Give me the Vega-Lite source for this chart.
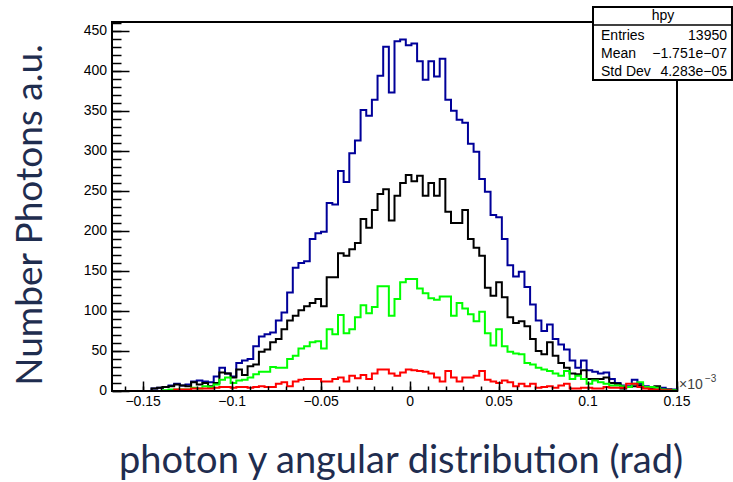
{
  "$schema": "https://vega.github.io/schema/vega-lite/v6.json",
  "width": 565,
  "height": 369,
  "autosize": "none",
  "padding": {"left": 112, "top": 22, "right": 56, "bottom": 91},
  "background": "white",
  "config": {"view": {"stroke": "black", "strokeWidth": 2}},
  "datasets": {
    "h": [
      {"x": -0.1675, "blue": 0, "black": 0, "green": 0, "red": 0},
      {"x": -0.164325, "blue": 0, "black": 0, "green": 0, "red": 0},
      {"x": -0.16115, "blue": 0, "black": 0, "green": 0, "red": 0},
      {"x": -0.157975, "blue": 0, "black": 0, "green": 0, "red": 0},
      {"x": -0.1548, "blue": 0, "black": 0, "green": 0, "red": 0},
      {"x": -0.151625, "blue": 0, "black": 0, "green": 0, "red": 0},
      {"x": -0.14845, "blue": 0, "black": 0, "green": 0, "red": 0},
      {"x": -0.145275, "blue": 3, "black": 3, "green": 0, "red": 0},
      {"x": -0.1421, "blue": 4, "black": 4, "green": 0, "red": 0},
      {"x": -0.138925, "blue": 5, "black": 5, "green": 1, "red": 0},
      {"x": -0.13575, "blue": 7, "black": 6, "green": 2, "red": 0},
      {"x": -0.132575, "blue": 9, "black": 8, "green": 2, "red": 2},
      {"x": -0.1294, "blue": 7, "black": 7, "green": 2, "red": 2},
      {"x": -0.126225, "blue": 8, "black": 6, "green": 2, "red": 2},
      {"x": -0.12305, "blue": 12, "black": 11, "green": 4, "red": 3},
      {"x": -0.119875, "blue": 13, "black": 8, "green": 3, "red": 3},
      {"x": -0.1167, "blue": 12, "black": 10, "green": 6, "red": 3},
      {"x": -0.113525, "blue": 11, "black": 6, "green": 5, "red": 3},
      {"x": -0.11035, "blue": 18, "black": 10, "green": 8, "red": 4},
      {"x": -0.107175, "blue": 29, "black": 23, "green": 14, "red": 5},
      {"x": -0.104, "blue": 22, "black": 22, "green": 17, "red": 5},
      {"x": -0.100825, "blue": 18, "black": 17, "green": 10, "red": 4},
      {"x": -0.09765, "blue": 35, "black": 27, "green": 13, "red": 5},
      {"x": -0.094475, "blue": 38, "black": 20, "green": 14, "red": 5},
      {"x": -0.0913, "blue": 40, "black": 31, "green": 17, "red": 4},
      {"x": -0.088125, "blue": 56, "black": 33, "green": 21, "red": 5},
      {"x": -0.08495, "blue": 68, "black": 49, "green": 24, "red": 6},
      {"x": -0.081775, "blue": 71, "black": 52, "green": 24, "red": 5},
      {"x": -0.0786, "blue": 73, "black": 61, "green": 30, "red": 5},
      {"x": -0.075425, "blue": 88, "black": 65, "green": 29, "red": 9},
      {"x": -0.07225, "blue": 98, "black": 77, "green": 29, "red": 11},
      {"x": -0.069075, "blue": 123, "black": 88, "green": 40, "red": 6},
      {"x": -0.0659, "blue": 154, "black": 94, "green": 44, "red": 12},
      {"x": -0.062725, "blue": 160, "black": 101, "green": 53, "red": 14},
      {"x": -0.05955, "blue": 162, "black": 106, "green": 56, "red": 15},
      {"x": -0.056375, "blue": 190, "black": 110, "green": 61, "red": 15},
      {"x": -0.0532, "blue": 197, "black": 115, "green": 62, "red": 15},
      {"x": -0.050025, "blue": 199, "black": 106, "green": 53, "red": 12},
      {"x": -0.04685, "blue": 235, "black": 142, "green": 77, "red": 12},
      {"x": -0.043675, "blue": 233, "black": 142, "green": 71, "red": 15},
      {"x": -0.0405, "blue": 275, "black": 172, "green": 95, "red": 17},
      {"x": -0.037325, "blue": 261, "black": 169, "green": 72, "red": 12},
      {"x": -0.03415, "blue": 297, "black": 177, "green": 77, "red": 19},
      {"x": -0.030975, "blue": 313, "black": 185, "green": 92, "red": 16},
      {"x": -0.0278, "blue": 351, "black": 215, "green": 107, "red": 20},
      {"x": -0.024625, "blue": 344, "black": 204, "green": 97, "red": 15},
      {"x": -0.02145, "blue": 364, "black": 226, "green": 105, "red": 22},
      {"x": -0.018275, "blue": 394, "black": 246, "green": 131, "red": 27},
      {"x": -0.0151, "blue": 430, "black": 252, "green": 131, "red": 27},
      {"x": -0.011925, "blue": 373, "black": 213, "green": 94, "red": 22},
      {"x": -0.00875, "blue": 437, "black": 244, "green": 115, "red": 19},
      {"x": -0.005575, "blue": 439, "black": 260, "green": 136, "red": 23},
      {"x": -0.0024, "blue": 432, "black": 270, "green": 140, "red": 27},
      {"x": 0.000775, "blue": 434, "black": 262, "green": 140, "red": 26},
      {"x": 0.00395, "blue": 412, "black": 269, "green": 128, "red": 25},
      {"x": 0.007125, "blue": 389, "black": 244, "green": 122, "red": 24},
      {"x": 0.0103, "blue": 412, "black": 260, "green": 116, "red": 22},
      {"x": 0.013475, "blue": 393, "black": 244, "green": 114, "red": 17},
      {"x": 0.01665, "blue": 415, "black": 265, "green": 118, "red": 12},
      {"x": 0.019825, "blue": 364, "black": 224, "green": 118, "red": 25},
      {"x": 0.023, "blue": 350, "black": 210, "green": 94, "red": 17},
      {"x": 0.026175, "blue": 339, "black": 210, "green": 110, "red": 12},
      {"x": 0.02935, "blue": 335, "black": 226, "green": 103, "red": 17},
      {"x": 0.032525, "blue": 309, "black": 190, "green": 96, "red": 17},
      {"x": 0.0357, "blue": 299, "black": 179, "green": 87, "red": 19},
      {"x": 0.038875, "blue": 265, "black": 169, "green": 99, "red": 25},
      {"x": 0.04205, "blue": 249, "black": 129, "green": 72, "red": 14},
      {"x": 0.045225, "blue": 220, "black": 119, "green": 57, "red": 12},
      {"x": 0.0484, "blue": 217, "black": 136, "green": 77, "red": 10},
      {"x": 0.051575, "blue": 190, "black": 117, "green": 56, "red": 13},
      {"x": 0.05475, "blue": 157, "black": 92, "green": 49, "red": 11},
      {"x": 0.057925, "blue": 143, "black": 85, "green": 47, "red": 6},
      {"x": 0.0611, "blue": 149, "black": 87, "green": 46, "red": 9},
      {"x": 0.064275, "blue": 130, "black": 81, "green": 35, "red": 6},
      {"x": 0.06745, "blue": 108, "black": 65, "green": 33, "red": 9},
      {"x": 0.070625, "blue": 88, "black": 50, "green": 29, "red": 4},
      {"x": 0.0738, "blue": 75, "black": 46, "green": 27, "red": 5},
      {"x": 0.076975, "blue": 83, "black": 61, "green": 25, "red": 6},
      {"x": 0.08015, "blue": 65, "black": 44, "green": 22, "red": 4},
      {"x": 0.083325, "blue": 58, "black": 35, "green": 19, "red": 7},
      {"x": 0.0865, "blue": 52, "black": 29, "green": 25, "red": 9},
      {"x": 0.089675, "blue": 38, "black": 22, "green": 15, "red": 3},
      {"x": 0.09285, "blue": 29, "black": 21, "green": 19, "red": 3},
      {"x": 0.096025, "blue": 38, "black": 26, "green": 15, "red": 4},
      {"x": 0.0992, "blue": 26, "black": 15, "green": 9, "red": 4},
      {"x": 0.102375, "blue": 24, "black": 15, "green": 13, "red": 3},
      {"x": 0.10555, "blue": 22, "black": 15, "green": 11, "red": 3},
      {"x": 0.108725, "blue": 23, "black": 17, "green": 9, "red": 5},
      {"x": 0.1119, "blue": 15, "black": 10, "green": 7, "red": 4},
      {"x": 0.115075, "blue": 10, "black": 9, "green": 7, "red": 4},
      {"x": 0.11825, "blue": 7, "black": 3, "green": 6, "red": 4},
      {"x": 0.121425, "blue": 6, "black": 5, "green": 5, "red": 9},
      {"x": 0.1246, "blue": 14, "black": 6, "green": 9, "red": 9},
      {"x": 0.127775, "blue": 9, "black": 7, "green": 11, "red": 5},
      {"x": 0.13095, "blue": 6, "black": 5, "green": 5, "red": 3},
      {"x": 0.134125, "blue": 4, "black": 4, "green": 5, "red": 2},
      {"x": 0.1373, "blue": 5, "black": 6, "green": 4, "red": 2},
      {"x": 0.140475, "blue": 4, "black": 2, "green": 2, "red": 1},
      {"x": 0.14365, "blue": 2, "black": 2, "green": 1, "red": 1},
      {"x": 0.146825, "blue": 2, "black": 1, "green": 1, "red": 0},
      {"x": 0.15, "blue": 2, "black": 1, "green": 1, "red": 0}
    ]
  },
  "resolve": {"axis": {"x": "independent", "y": "independent"}},
  "layer": [
    {
      "data": {"name": "h"},
      "mark": {"type": "line", "interpolate": "step-after", "color": "#000099", "strokeWidth": 2},
      "encoding": {
        "x": {
          "field": "x", "type": "quantitative",
          "scale": {"domain": [-0.1675, 0.15], "nice": false, "zero": false},
          "axis": {
            "orient": "bottom",
            "values": [-0.15, -0.1, -0.05, 0, 0.05, 0.1, 0.15],
            "format": "~g",
            "labelFont": "Liberation Sans", "labelFontSize": 14, "labelColor": "#000000",
            "labelPadding": 4, "labelFlush": false, "labelOverlap": false,
            "ticks": false, "grid": false,
            "domain": true, "domainColor": "#000000", "domainWidth": 2, "translate": 0,
            "title": "photon y angular distribution (rad)",
            "titleFont": "Lato", "titleFontSize": 38, "titleFontWeight": "normal", "titleColor": "#1f2d4f",
            "titleX": 289, "titleY": 82, "titleBaseline": "alphabetic", "titleAlign": "center",
            "zindex": 1
          }
        },
        "y": {
          "field": "blue", "type": "quantitative",
          "scale": {"domain": [0, 461], "nice": false},
          "axis": {
            "orient": "left",
            "values": [0, 50, 100, 150, 200, 250, 300, 350, 400, 450],
            "labelFont": "Liberation Sans", "labelFontSize": 14, "labelColor": "#000000",
            "labelPadding": 5, "labelFlush": false, "labelOverlap": false,
            "ticks": false, "grid": false,
            "domain": true, "domainColor": "#000000", "domainWidth": 2, "translate": 0,
            "title": "Number Photons a.u.",
            "titleFont": "Lato", "titleFontSize": 37, "titleFontWeight": "normal", "titleColor": "#1f2d4f",
            "titleX": -81, "titleY": 193, "titleAngle": -90, "titleBaseline": "middle", "titleAlign": "center",
            "zindex": 1
          }
        }
      }
    },
    {
      "data": {"name": "h"},
      "mark": {"type": "line", "interpolate": "step-after", "color": "#000000", "strokeWidth": 2},
      "encoding": {
        "x": {
          "field": "x", "type": "quantitative",
          "scale": {"domain": [-0.1675, 0.15], "nice": false, "zero": false},
          "axis": {
            "orient": "bottom", "offset": -10,
            "values": [-0.15, -0.1, -0.05, 0, 0.05, 0.1, 0.15],
            "labels": false, "domain": false, "grid": false, "title": null,
            "ticks": true, "tickSize": 10, "tickWidth": 1.5, "tickColor": "#000000",
            "zindex": 1
          }
        },
        "y": {
          "field": "black", "type": "quantitative",
          "scale": {"domain": [0, 461], "nice": false},
          "axis": {
            "orient": "left", "offset": -17,
            "values": [0, 50, 100, 150, 200, 250, 300, 350, 400, 450],
            "labels": false, "domain": false, "grid": false, "title": null,
            "ticks": true, "tickSize": 17, "tickWidth": 1.5, "tickColor": "#000000",
            "zindex": 1
          }
        }
      }
    },
    {
      "data": {"name": "h"},
      "mark": {"type": "line", "interpolate": "step-after", "color": "#00ff00", "strokeWidth": 2},
      "encoding": {
        "x": {
          "field": "x", "type": "quantitative",
          "scale": {"domain": [-0.1675, 0.15], "nice": false, "zero": false},
          "axis": {
            "orient": "bottom", "offset": -5,
            "values": [-0.16, -0.15, -0.14, -0.13, -0.12, -0.11, -0.1, -0.09, -0.08, -0.07, -0.06, -0.05, -0.04, -0.03, -0.02, -0.01, 0, 0.01, 0.02, 0.03, 0.04, 0.05, 0.06, 0.07, 0.08, 0.09, 0.1, 0.11, 0.12, 0.13, 0.14, 0.15],
            "labels": false, "domain": false, "grid": false, "title": null,
            "ticks": true, "tickSize": 5, "tickWidth": 1.5, "tickColor": "#000000",
            "zindex": 1
          }
        },
        "y": {
          "field": "green", "type": "quantitative",
          "scale": {"domain": [0, 461], "nice": false},
          "axis": {
            "orient": "left", "offset": -9,
            "values": [0, 10, 20, 30, 40, 50, 60, 70, 80, 90, 100, 110, 120, 130, 140, 150, 160, 170, 180, 190, 200, 210, 220, 230, 240, 250, 260, 270, 280, 290, 300, 310, 320, 330, 340, 350, 360, 370, 380, 390, 400, 410, 420, 430, 440, 450, 460],
            "labels": false, "domain": false, "grid": false, "title": null,
            "ticks": true, "tickSize": 9, "tickWidth": 1.5, "tickColor": "#000000",
            "zindex": 1
          }
        }
      }
    },
    {
      "data": {"name": "h"},
      "mark": {"type": "line", "interpolate": "step-after", "color": "#ff0000", "strokeWidth": 2},
      "encoding": {
        "x": {"field": "x", "type": "quantitative", "scale": {"domain": [-0.1675, 0.15], "nice": false, "zero": false}, "axis": null},
        "y": {"field": "red", "type": "quantitative", "scale": {"domain": [0, 461], "nice": false}, "axis": null}
      }
    },
    {
      "data": {"values": [{}]},
      "mark": {"type": "rect", "fill": "white", "stroke": "black", "strokeWidth": 2, "clip": false},
      "encoding": {
        "x": {"datum": 0.1028, "type": "quantitative", "axis": null},
        "x2": {"datum": 0.1809},
        "y": {"datum": 479.8, "type": "quantitative", "axis": null},
        "y2": {"datum": 388.6}
      }
    },
    {
      "data": {"values": [{}]},
      "mark": {"type": "rule", "stroke": "black", "strokeWidth": 1.5, "clip": false},
      "encoding": {
        "x": {"datum": 0.1028, "type": "quantitative", "axis": null},
        "x2": {"datum": 0.1809},
        "y": {"datum": 457.3, "type": "quantitative", "axis": null}
      }
    },
    {
      "data": {"values": [{}]},
      "mark": {"type": "text", "font": "Liberation Sans", "fontSize": 14, "color": "#000000", "align": "center", "baseline": "middle", "clip": false},
      "encoding": {
        "x": {"datum": 0.14214, "type": "quantitative", "axis": null},
        "y": {"datum": 468.5, "type": "quantitative", "axis": null},
        "text": {"value": "hpy"}
      }
    },
    {
      "data": {"values": [{}]},
      "mark": {"type": "text", "font": "Liberation Sans", "fontSize": 14, "color": "#000000", "align": "left", "baseline": "middle", "clip": false},
      "encoding": {
        "x": {"datum": 0.1073, "type": "quantitative", "axis": null},
        "y": {"datum": 443.5, "type": "quantitative", "axis": null},
        "text": {"value": "Entries"}
      }
    },
    {
      "data": {"values": [{}]},
      "mark": {"type": "text", "font": "Liberation Sans", "fontSize": 14, "color": "#000000", "align": "right", "baseline": "middle", "clip": false},
      "encoding": {
        "x": {"datum": 0.1781, "type": "quantitative", "axis": null},
        "y": {"datum": 443.5, "type": "quantitative", "axis": null},
        "text": {"value": "13950"}
      }
    },
    {
      "data": {"values": [{}]},
      "mark": {"type": "text", "font": "Liberation Sans", "fontSize": 14, "color": "#000000", "align": "left", "baseline": "middle", "clip": false},
      "encoding": {
        "x": {"datum": 0.1073, "type": "quantitative", "axis": null},
        "y": {"datum": 421.0, "type": "quantitative", "axis": null},
        "text": {"value": "Mean"}
      }
    },
    {
      "data": {"values": [{}]},
      "mark": {"type": "text", "font": "Liberation Sans", "fontSize": 14, "color": "#000000", "align": "right", "baseline": "middle", "clip": false},
      "encoding": {
        "x": {"datum": 0.1781, "type": "quantitative", "axis": null},
        "y": {"datum": 421.0, "type": "quantitative", "axis": null},
        "text": {"value": "\u22121.751e\u221207"}
      }
    },
    {
      "data": {"values": [{}]},
      "mark": {"type": "text", "font": "Liberation Sans", "fontSize": 14, "color": "#000000", "align": "left", "baseline": "middle", "clip": false},
      "encoding": {
        "x": {"datum": 0.1073, "type": "quantitative", "axis": null},
        "y": {"datum": 398.5, "type": "quantitative", "axis": null},
        "text": {"value": "Std Dev"}
      }
    },
    {
      "data": {"values": [{}]},
      "mark": {"type": "text", "font": "Liberation Sans", "fontSize": 14, "color": "#000000", "align": "right", "baseline": "middle", "clip": false},
      "encoding": {
        "x": {"datum": 0.1781, "type": "quantitative", "axis": null},
        "y": {"datum": 398.5, "type": "quantitative", "axis": null},
        "text": {"value": "4.283e\u221205"}
      }
    },
    {
      "data": {"values": [{}]},
      "mark": {"type": "text", "font": "Liberation Sans", "fontSize": 14, "color": "#404040", "align": "left", "baseline": "alphabetic", "clip": false},
      "encoding": {
        "x": {"datum": 0.15113, "type": "quantitative", "axis": null},
        "y": {"datum": 2.5, "type": "quantitative", "axis": null},
        "text": {"value": "\u00d710"}
      }
    },
    {
      "data": {"values": [{}]},
      "mark": {"type": "text", "font": "Liberation Sans", "fontSize": 10, "color": "#404040", "align": "left", "baseline": "alphabetic", "clip": false},
      "encoding": {
        "x": {"datum": 0.16574, "type": "quantitative", "axis": null},
        "y": {"datum": 11.2, "type": "quantitative", "axis": null},
        "text": {"value": "\u22123"}
      }
    }
  ]
}
